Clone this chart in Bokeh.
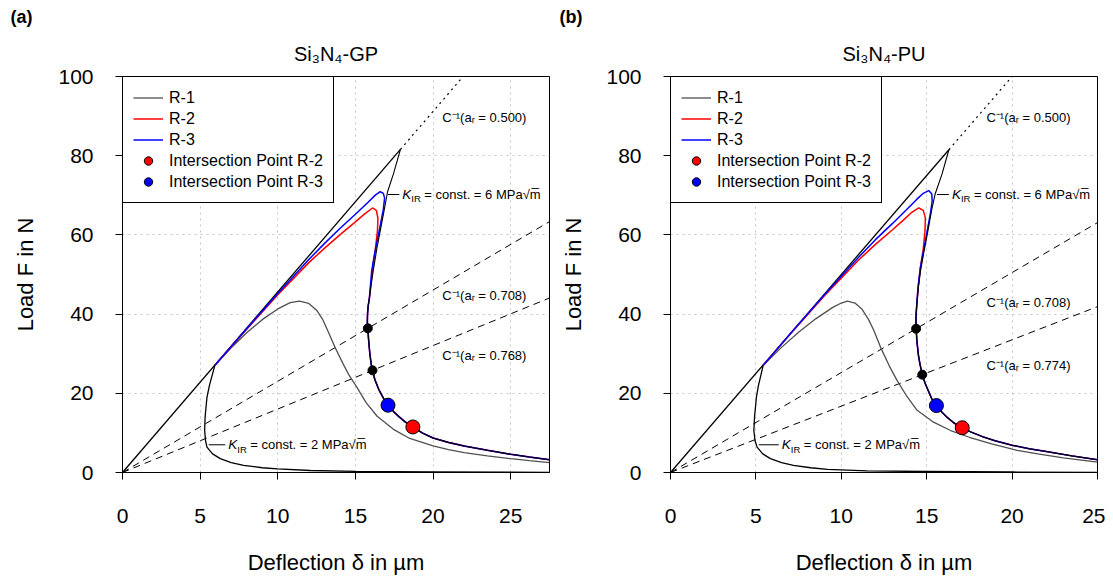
from bokeh.plotting import figure
from bokeh.layouts import row
from bokeh.models import Range1d, FixedTicker, Legend, LegendItem, Label, Title
from bokeh.embed import file_html
from bokeh.resources import INLINE

FONT = "Liberation Sans"

X_TICKS = [0, 5, 10, 15, 20, 25]
Y_TICKS = [0, 20, 40, 60, 80, 100]

# ---------------- Panel (a): Si3N4-GP ----------------
gp_title = "Si₃N₄-GP"
gp_xmax = 27.5
gp_k2_x = [5.95, 5.6, 5.44, 5.32, 5.29, 5.35, 5.44, 5.8, 6.3, 7.0, 7.8, 9.0, 10.0, 12.1, 15.0, 20.0, 27.5]
gp_k2_y = [27.1, 22.0, 19.0, 14.0, 10.6, 8.0, 6.4, 4.7, 3.5, 2.5, 1.8, 1.2, 0.93, 0.5, 0.3, 0.15, 0.05]
gp_k6_x = [17.9, 17.45, 17.07, 16.88, 16.6, 16.4, 16.15, 16.0, 15.9, 15.82, 15.78, 15.77, 15.8, 15.85, 15.93,
           16.02, 16.1, 16.25, 16.5, 16.8, 17.1, 17.45, 17.8, 18.2, 18.7, 19.3, 20.0, 21.0, 22.0, 23.5, 25.0, 26.2, 27.5]
gp_k6_y = [81.6, 75.4, 70.9, 66.8, 61.0, 57.0, 51.0, 47.0, 44.0, 42.0, 40.0, 38.0, 36.4, 33.5, 30.0,
           27.3, 25.8, 23.5, 21.0, 18.8, 17.0, 15.4, 14.1, 12.8, 11.5, 10.0, 8.7, 7.6, 6.7, 5.6, 4.6, 3.9, 3.2]
gp_r1_x = [5.95, 7.0, 8.0, 9.0, 10.0, 10.8, 11.4, 12.0, 12.5, 12.9, 13.2, 13.7, 14.2, 14.6, 15.1, 15.7, 16.4,
           17.45, 18.5, 19.3, 20.0, 21.0, 22.0, 23.5, 25.0, 26.2, 27.5]
gp_r1_y = [27.1, 31.5, 35.3, 38.6, 41.3, 42.9, 43.3, 42.7, 41.0, 38.6, 36.0, 31.5, 27.5, 24.5, 21.5, 17.6, 14.2,
           10.9, 8.6, 7.6, 6.7, 5.8, 5.0, 4.2, 3.5, 3.0, 2.5]
gp_r2_x = [5.95, 8.0, 10.0, 12.0, 13.0, 14.0, 15.0, 15.6, 16.1, 16.35, 16.45, 16.42, 16.3, 16.1, 16.0]
gp_r2_y = [27.1, 36.2, 44.9, 53.0, 56.6, 60.0, 63.3, 65.3, 66.8, 66.2, 64.2, 61.0, 56.9, 51.0, 47.5]
gp_r3_x = [5.95, 8.0, 10.0, 12.0, 13.0, 14.0, 15.0, 15.8, 16.3, 16.6, 16.8, 16.88, 16.8, 16.62, 16.4, 16.2, 16.05]
gp_r3_y = [27.1, 36.3, 45.2, 53.8, 57.8, 61.6, 65.2, 68.2, 70.1, 70.9, 70.5, 69.3, 66.5, 62.8, 58.4, 54.5, 51.0]
gp_join_y = 44.0
gp_cross_x = [15.8, 16.1]          # black intersection points (a_r = 0.708, 0.768)
gp_cross_y = [36.4, 25.8]
gp_ip2 = (18.7, 11.5)              # Intersection Point R-2
gp_ip3 = (17.1, 17.0)              # Intersection Point R-3
gp_c_labels = ["C⁻¹(aᵣ = 0.500)", "C⁻¹(aᵣ = 0.708)", "C⁻¹(aᵣ = 0.768)"]

# ---------------- Panel (b): Si3N4-PU ----------------
pu_title = "Si₃N₄-PU"
pu_xmax = 25.0
pu_k2_x = [5.43, 5.15, 5.03, 4.92, 4.88, 4.95, 5.07, 5.4, 5.85, 6.5, 7.2, 8.2, 9.2, 11.5, 15.0, 20.0, 25.0]
pu_k2_y = [27.1, 22.0, 19.0, 14.0, 10.6, 8.0, 6.4, 4.7, 3.5, 2.5, 1.8, 1.2, 0.8, 0.4, 0.25, 0.12, 0.05]
pu_k6_x = [16.3, 15.9, 15.5, 15.3, 15.05, 14.85, 14.64, 14.52, 14.43, 14.38, 14.37, 14.38, 14.43, 14.52, 14.6,
           14.74, 14.9, 15.1, 15.3, 15.57, 15.9, 16.2, 16.6, 17.08, 17.6, 18.3, 19.0, 20.0, 21.0, 22.0, 23.5, 25.0]
pu_k6_y = [81.5, 75.4, 70.4, 66.5, 60.5, 56.0, 51.0, 47.0, 43.0, 40.0, 38.0, 36.3, 33.0, 29.5, 27.5,
           24.7, 22.6, 20.6, 18.6, 16.9, 15.2, 13.9, 12.5, 11.3, 10.2, 9.0, 8.0, 6.9, 6.0, 5.3, 4.2, 3.2]
pu_r1_x = [5.43, 6.5, 7.5, 8.5, 9.5, 10.0, 10.36, 10.8, 11.2, 11.6, 11.9, 12.3, 12.8, 13.27, 13.8, 14.44, 15.4,
           16.4, 17.5, 18.8, 20.3, 21.5, 23.0, 25.0]
pu_r1_y = [27.1, 31.6, 35.4, 38.8, 41.7, 42.8, 43.3, 42.8, 41.3, 38.6, 35.9, 31.6, 27.0, 23.2, 19.5, 15.7, 12.7,
           10.6, 8.9, 7.2, 5.6, 4.7, 3.7, 2.6]
pu_r2_x = [5.43, 7.0, 9.0, 11.0, 12.0, 13.0, 13.6, 14.1, 14.54, 14.8, 14.92, 14.9, 14.8, 14.62, 14.48]
pu_r2_y = [27.1, 34.9, 44.6, 53.6, 57.6, 61.3, 63.6, 65.6, 66.8, 66.2, 64.3, 61.0, 56.5, 51.5, 46.0]
pu_r3_x = [5.43, 7.0, 9.0, 11.0, 12.0, 13.0, 13.8, 14.4, 14.8, 15.12, 15.3, 15.32, 15.22, 15.05, 14.86, 14.64, 14.5]
pu_r3_y = [27.1, 35.0, 44.8, 54.3, 58.8, 62.9, 66.3, 68.9, 70.5, 71.2, 70.3, 68.5, 65.5, 61.5, 57.0, 52.0, 47.0]
pu_join_y = 43.0
pu_cross_x = [14.38, 14.74]
pu_cross_y = [36.3, 24.7]
pu_ip2 = (17.08, 11.3)
pu_ip3 = (15.57, 16.9)
pu_c_labels = ["C⁻¹(aᵣ = 0.500)", "C⁻¹(aᵣ = 0.708)", "C⁻¹(aᵣ = 0.774)"]

# annotation placement (data units): C-label anchors, K-label leaders
GP_ANN = dict(panel="(a)", c_x=20.6, c_y=[89.6, 44.6, 29.5], k6=(17.08, 17.83, 70.2), k2=(5.55, 6.62, 7.0))
PU_ANN = dict(panel="(b)", c_x=18.5, c_y=[89.6, 43.0, 27.0], k6=(15.6, 16.3, 70.2), k2=(5.17, 6.34, 7.0))


def k_label(p, lead, num):
    x0, x1, y = lead
    p.line([x0, x1], [y, y], line_color="black", line_width=1)
    common = dict(x=x1, y=y, text_baseline="middle", text_font=FONT, text_color="black")
    p.add_layout(Label(text="K", x_offset=3, text_font_style="italic", text_font_size="13.5px", **common))
    p.add_layout(Label(x=x1, y=y - 1.1, text="IR", x_offset=12, text_baseline="middle", text_font=FONT,
                       text_font_size="9.5px", text_color="black"))
    p.add_layout(Label(text=f"= const. = {num} MPa√m̅", x_offset=25, text_font_size="13px", **common))


def make_panel(title, xmax, k2x, k2y, k6x, k6y, r1x, r1y, r2x, r2y, r3x, r3y, join_y,
               cx, cy, ip2, ip3, clabels, ann, width, left, right, panel_offset):
    p = figure(width=width, height=580, x_range=Range1d(0, xmax), y_range=Range1d(0, 100),
               output_backend="svg", toolbar_location=None, title=None,
               min_border_left=left, min_border_right=right, min_border_top=76, min_border_bottom=108)
    p.add_layout(Title(text=title, align="center", text_font=FONT, text_font_size="20px",
                       text_font_style="normal", text_color="black", standoff=24), "above")
    p.add_layout(Title(text=ann["panel"], align="left", offset=panel_offset, text_font=FONT,
                       text_font_size="18px", text_font_style="bold", text_color="black",
                       standoff=4), "above")
    p.outline_line_color = "black"
    p.outline_line_alpha = 1
    p.background_fill_color = "white"

    for ax in (p.xaxis, p.yaxis):
        ax.major_tick_out = 7
        ax.major_tick_in = 0
        ax.minor_tick_out = 0
        ax.minor_tick_in = 0
        ax.axis_line_color = "black"
        ax.major_tick_line_color = "black"
        ax.major_label_text_font = FONT
        ax.major_label_text_font_size = "21px"
        ax.major_label_text_color = "black"
        ax.axis_label_text_font = FONT
        ax.axis_label_text_font_size = "22px"
        ax.axis_label_text_font_style = "normal"
        ax.axis_label_text_color = "black"
    p.xaxis.ticker = FixedTicker(ticks=X_TICKS)
    p.yaxis.ticker = FixedTicker(ticks=Y_TICKS)
    p.xaxis.axis_label = "Deflection δ in µm"
    p.yaxis.axis_label = "Load F in N"
    p.xaxis.major_label_standoff = 29
    p.xaxis.axis_label_standoff = 24
    p.yaxis.major_label_standoff = 22
    p.yaxis.axis_label_standoff = 17

    for g in (p.xgrid, p.ygrid):
        g.grid_line_color = "#c4c4c4"
        g.grid_line_dash = "2 4"
        g.grid_line_width = 1

    # compliance lines through the black intersection points
    for x, y in zip(cx, cy):
        p.line([0, xmax], [0, y / x * xmax], line_color="black", line_dash="7 5", line_width=1)
    # compliance line a_r = 0.500 up to the K=6 peak, dotted beyond
    px, py = k6x[0], k6y[0]
    p.line([px, 100 * px / py], [py, 100], line_color="black", line_dash="2 4", line_width=1.2)
    p.line([0, px], [0, py], line_color="black", line_width=1.3)

    p.line(k2x, k2y, line_color="black", line_width=1.3)

    idx = next(i for i, v in enumerate(k6y) if v <= join_y)
    r1 = p.line(r1x, r1y, line_color="#505050", line_width=1.3)
    r2 = p.line(r2x + k6x[idx:], r2y + k6y[idx:], line_color="#ff0000", line_width=1.5)
    r3 = p.line(r3x + k6x[idx:], r3y + k6y[idx:], line_color="#0000ff", line_width=1.5)
    p.line(k6x, k6y, line_color="black", line_width=1.1)

    p.scatter(cx, cy, size=9, fill_color="black", line_color="black")
    s2 = p.scatter([ip2[0]], [ip2[1]], size=14, fill_color="#ff0000", line_color="black", line_width=1)
    s3 = p.scatter([ip3[0]], [ip3[1]], size=14, fill_color="#0000ff", line_color="black", line_width=1)

    for txt, y in zip(clabels, ann["c_y"]):
        p.add_layout(Label(x=ann["c_x"], y=y, text=txt, text_baseline="middle", text_font=FONT,
                           text_font_size="13px", text_color="black"))
    k_label(p, ann["k6"], 6)
    k_label(p, ann["k2"], 2)

    legend = Legend(items=[LegendItem(label="R-1", renderers=[r1]),
                           LegendItem(label="R-2", renderers=[r2]),
                           LegendItem(label="R-3", renderers=[r3]),
                           LegendItem(label="Intersection Point R-2", renderers=[s2]),
                           LegendItem(label="Intersection Point R-3", renderers=[s3])],
                    location="top_left", margin=0, padding=10, spacing=0,
                    glyph_width=30, glyph_height=21, label_height=21, label_standoff=6,
                    border_line_color="black", border_line_width=1, border_line_alpha=1,
                    background_fill_color="white", background_fill_alpha=1,
                    label_text_font=FONT, label_text_font_size="16px", label_text_color="black")
    p.add_layout(legend)
    return p


p1 = make_panel(gp_title, gp_xmax, gp_k2_x, gp_k2_y, gp_k6_x, gp_k6_y, gp_r1_x, gp_r1_y,
                gp_r2_x, gp_r2_y, gp_r3_x, gp_r3_y, gp_join_y, gp_cross_x, gp_cross_y,
                gp_ip2, gp_ip3, gp_c_labels, GP_ANN, 556, 122, 7, -112)
p2 = make_panel(pu_title, pu_xmax, pu_k2_x, pu_k2_y, pu_k6_x, pu_k6_y, pu_r1_x, pu_r1_y,
                pu_r2_x, pu_r2_y, pu_r3_x, pu_r3_y, pu_join_y, pu_cross_x, pu_cross_y,
                pu_ip2, pu_ip3, pu_c_labels, PU_ANN, 549, 114, 8, -111)

layout = row(p1, p2)
open("out.html", "w").write(file_html(layout, INLINE))
